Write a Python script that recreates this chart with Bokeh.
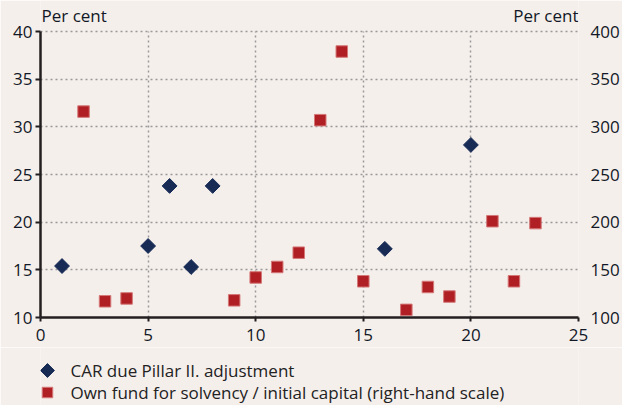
import math
from bokeh.plotting import figure
from bokeh.models import (Range1d, LinearAxis, FixedTicker, Label)
from bokeh.layouts import column
from bokeh.embed import file_html
from bokeh.resources import INLINE

# Data
car_x = [1, 5, 6, 7, 8, 16, 20]
car_y = [15.4, 17.5, 23.8, 15.3, 23.8, 17.2, 28.1]
own_x = [2, 3, 4, 9, 10, 11, 12, 13, 14, 15, 17, 18, 19, 21, 22, 23]
own_y = [316, 117, 120, 118, 142, 153, 168, 307, 379, 138, 108, 132, 122, 201, 138, 199]
x_ticks = [0, 5, 10, 15, 20, 25]
left_ticks = [10, 15, 20, 25, 30, 35, 40]
right_ticks = [100, 150, 200, 250, 300, 350, 400]
car_label = "CAR due Pillar II. adjustment"
own_label = "Own fund for solvency / initial capital (right-hand scale)"
unit_label = "Per cent"

BG = "#F5EFEC"
NAVY = "#172B55"
RED = "#B01F24"
TXT = "#121826"
AX = "#231F20"
FONT = "Open Sans"
FS = "17px"

W = 622
PLOT_TOP = 31          # pixel row of the 40 / 400 gridline
PLOT_H = 286           # pixels between 40 and 10
MAIN_H = PLOT_TOP + PLOT_H + 30
BOT_H = 405 - MAIN_H
BL, BR = 40, 43

y_lo, y_hi = left_ticks[0], left_ticks[-1]
r_lo, r_hi = right_ticks[0], right_ticks[-1]
px_per_unit = PLOT_H / (y_hi - y_lo)
y_top = y_hi + PLOT_TOP / px_per_unit               # frame extends up to hold the unit labels
r_top = r_lo + (y_top - y_lo) * (r_hi - r_lo) / (y_hi - y_lo)

p = figure(width=W, height=MAIN_H, output_backend="svg", toolbar_location=None,
           x_range=Range1d(0, 25), y_range=Range1d(y_lo, y_top),
           min_border_left=BL, min_border_right=BR, min_border_top=0, min_border_bottom=30,
           background_fill_color=BG, border_fill_color=BG, outline_line_color=None)
p.extra_y_ranges = {"right": Range1d(r_lo, r_top)}

xa = p.xaxis[0]
xa.ticker = FixedTicker(ticks=x_ticks)
ya = p.yaxis[0]
ya.ticker = FixedTicker(ticks=left_ticks)
ya.bounds = (y_lo, y_hi)
for ax in (xa, ya):
    ax.axis_line_color = AX
    ax.axis_line_width = 2.5
    ax.major_tick_line_color = AX
    ax.major_tick_line_width = 2
    ax.major_tick_in = 0
    ax.minor_tick_line_color = None
    ax.major_label_text_font = FONT
    ax.major_label_text_font_size = FS
    ax.major_label_text_color = TXT
xa.major_tick_out = 4
xa.major_label_standoff = 7
ya.major_tick_out = 5
ya.major_label_standoff = 3

ra = LinearAxis(y_range_name="right", ticker=FixedTicker(ticks=right_ticks), bounds=(r_lo, r_hi))
ra.axis_line_color = None
ra.major_tick_line_color = None
ra.minor_tick_line_color = None
ra.major_label_text_font = FONT
ra.major_label_text_font_size = FS
ra.major_label_text_color = TXT
ra.major_label_standoff = 6
p.add_layout(ra, "right")

GRID = dict(line_color="#999999", line_width=1.5, line_dash="2 3")
p.ygrid.ticker = FixedTicker(ticks=left_ticks)
p.ygrid[0].grid_line_color = GRID["line_color"]
p.ygrid[0].grid_line_width = GRID["line_width"]
p.ygrid[0].grid_line_dash = GRID["line_dash"]
xg = p.xgrid[0]
if "cross_bounds" in xg.properties():
    xg.ticker = FixedTicker(ticks=x_ticks)
    xg.cross_bounds = (y_lo, y_hi)
    xg.grid_line_color = GRID["line_color"]
    xg.grid_line_width = GRID["line_width"]
    xg.grid_line_dash = GRID["line_dash"]
else:
    xg.visible = False
    gx = x_ticks[1:]
    p.segment(x0=gx, x1=gx, y0=[y_lo] * len(gx), y1=[y_hi] * len(gx), **GRID)

car_style = dict(marker="square", size=10.5, angle=math.pi / 4,
                 fill_color=NAVY, line_color=NAVY)
own_style = dict(marker="square", size=11.5,
                 fill_color=RED, line_color="#D47878", line_width=1)
p.scatter(car_x, car_y, **car_style)
p.scatter(own_x, own_y, y_range_name="right", **own_style)

label_y = y_hi + (PLOT_TOP - 15) / px_per_unit
p.add_layout(Label(x=0, y=label_y, text=unit_label, x_offset=1,
                   text_font=FONT, text_font_size=FS, text_color=TXT,
                   text_baseline="middle", text_align="left"))
p.add_layout(Label(x=25, y=label_y, text=unit_label,
                   text_font=FONT, text_font_size=FS, text_color=TXT,
                   text_baseline="middle", text_align="right"))

# legend strip: keys drawn with the series styles, in page-pixel layout units
bot = figure(width=W, height=BOT_H, output_backend="svg", toolbar_location=None,
             x_axis_type=None, y_axis_type=None,
             x_range=Range1d(BL, W - BR), y_range=Range1d(0, BOT_H),
             min_border_left=BL, min_border_right=BR, min_border_top=0, min_border_bottom=0,
             background_fill_color=BG, border_fill_color=BG, outline_line_color=None)
bot.grid.visible = False
KEY_X, TEXT_X = 47, 70
ROWS = [BOT_H - 23, BOT_H - 45]
legend_entries = [(car_label, car_style, 9.8), (own_label, own_style, 10.5)]
for (lab, style, sz), ry in zip(legend_entries, ROWS):
    st = dict(style)
    st["size"] = sz
    bot.scatter([KEY_X], [ry], **st)
    bot.add_layout(Label(x=TEXT_X, y=ry, text=lab,
                         text_font=FONT, text_font_size=FS, text_color="#222222",
                         text_baseline="middle", text_align="left"))

layout = column(p, bot, spacing=0)
html = file_html(layout, INLINE)
open("out.html", "w").write(html)
